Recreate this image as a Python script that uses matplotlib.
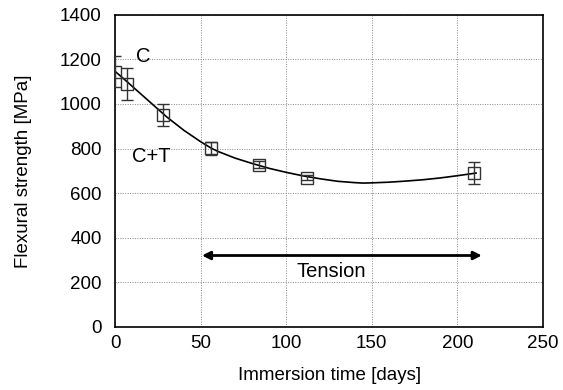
import matplotlib
matplotlib.use("Agg")
import matplotlib.pyplot as plt

# measured points
days = [0, 7, 28, 56, 84, 112, 210]
strength = [1143, 1089, 951, 801, 727, 670, 690]
err_hi = [1213, 1161, 999, 831, 742, 680, 738]
err_lo = [1074, 1017, 902, 771, 712, 660, 641]

# fitted curve
curve_days = [0, 5, 10, 15, 20, 25, 30, 40, 50, 56, 60, 70, 80, 90, 100,
              110, 120, 130, 140, 145, 150, 160, 170, 180, 190, 200, 211]
curve_vals = [1145, 1112, 1078, 1044, 1010, 976, 942, 882, 830, 802, 787, 757,
              733, 711, 693, 677, 664, 653, 647, 645, 646, 649, 654, 660, 668, 678, 690]

plt.rcParams['font.family'] = ['Liberation Sans', 'DejaVu Sans']
plt.rcParams['font.size'] = 13.5

fig = plt.figure(figsize=(5.63, 3.90), dpi=100)
ax = fig.add_axes([0.205, 0.162, 0.759, 0.800])

ax.plot(curve_days, curve_vals, color='black', lw=1.2, zorder=3)

yerr = [[s - lo for s, lo in zip(strength, err_lo)],
        [hi - s for s, hi in zip(strength, err_hi)]]
ax.errorbar(days, strength, yerr=yerr, fmt='s', mfc='none', mec='#333333',
            ms=8, mew=1.0, ecolor='#333333', elinewidth=1.0, capsize=4,
            capthick=1.0, zorder=4)

ax.annotate('', xy=(216, 320), xytext=(49, 320),
            arrowprops=dict(arrowstyle='<|-|>', color='black', lw=2,
                            mutation_scale=12))
ax.text(126, 250, 'Tension', ha='center', va='center', fontsize=14.5)
ax.text(16, 1212, 'C', ha='center', va='center', fontsize=14.5)
ax.text(21, 765, 'C+T', ha='center', va='center', fontsize=14.5)

ax.set_xlim(0, 250)
ax.set_ylim(0, 1400)
ax.set_xticks(range(0, 251, 50))
ax.set_yticks(range(0, 1401, 200))
ax.grid(True, color='#888888', linestyle=(0, (1, 1.5)), lw=0.7)
ax.tick_params(direction='in', length=0)
ax.tick_params(axis='y', pad=10)
ax.tick_params(axis='x', pad=6)
for sp in ax.spines.values():
    sp.set_linewidth(1.2)

ax.set_xlabel('Immersion time [days]', labelpad=11)
ax.set_ylabel('Flexural strength [MPa]', labelpad=20)

fig.savefig('out.png', dpi=100)
